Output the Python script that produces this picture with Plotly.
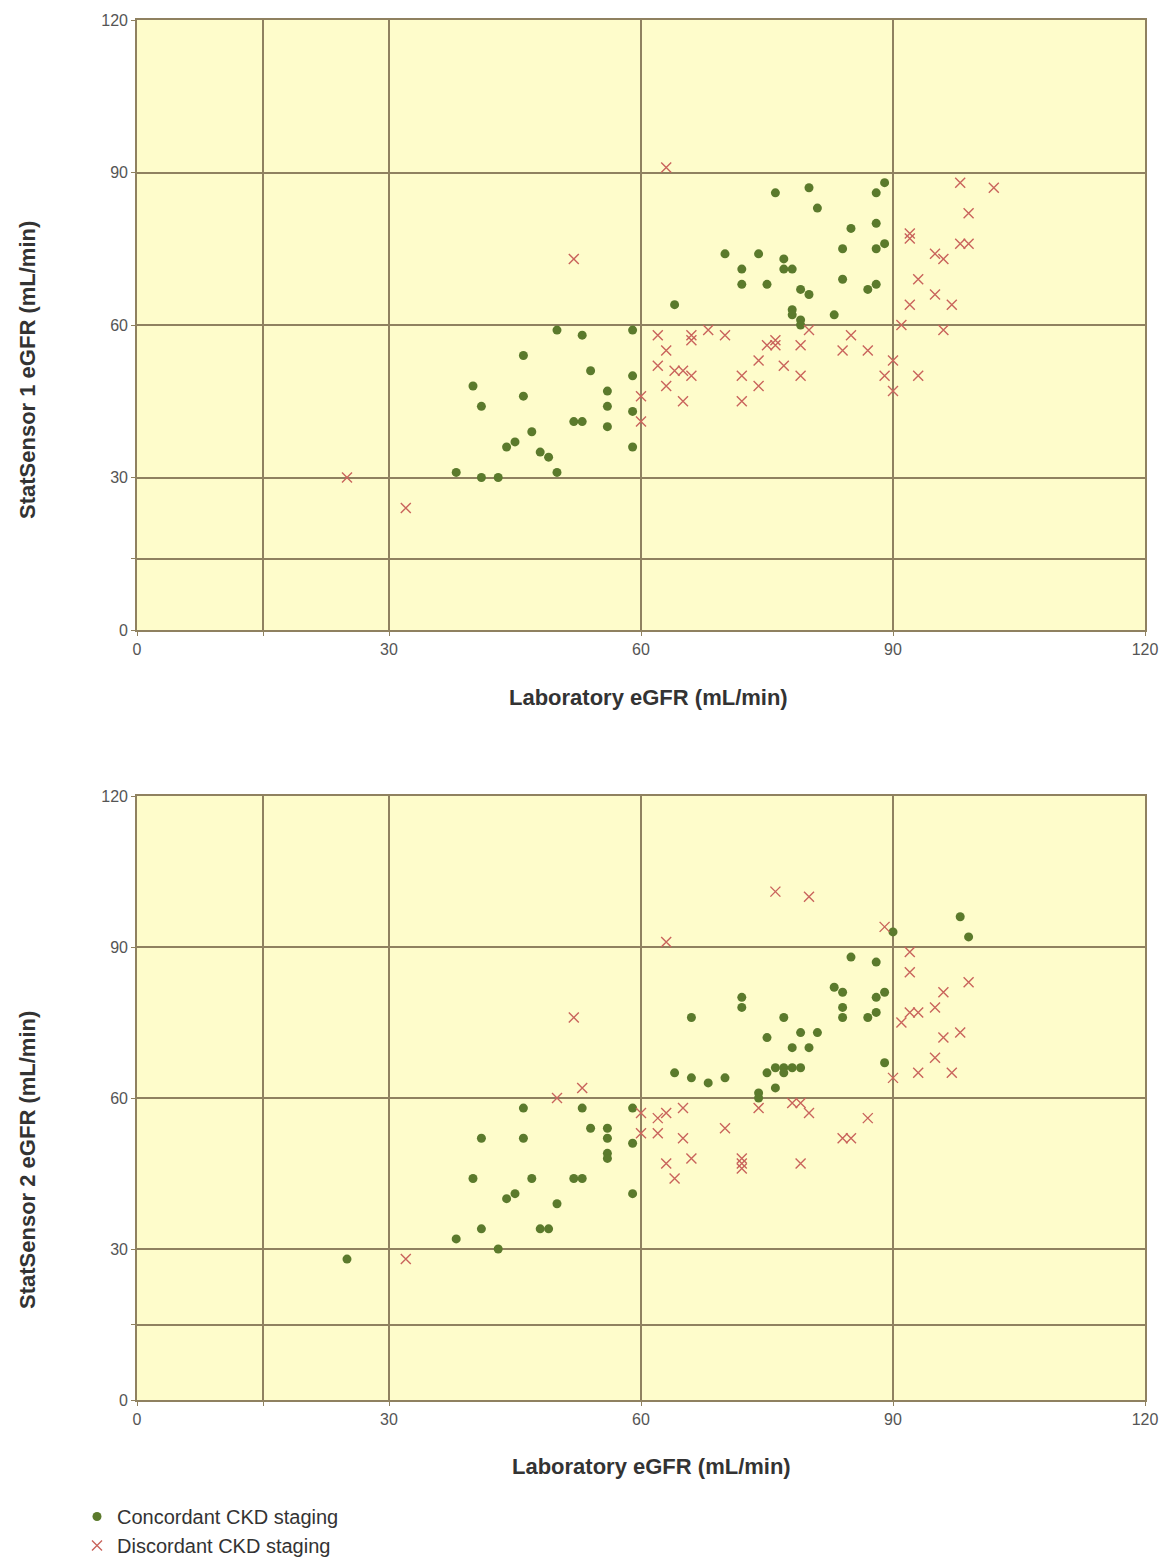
import plotly.graph_objects as go

# ---------------- data ----------------
# Top panel: StatSensor 1
s1_conc_x = [50, 53, 59, 76, 80, 88, 89, 81, 88, 85, 84, 88, 89, 70, 74, 77, 72, 77, 78, 84,
             72, 75, 88, 87, 79, 80, 64, 78, 78, 83, 79, 79, 46, 54, 59, 40, 56, 46, 41, 56,
             59, 52, 53, 56, 47, 45, 44, 59, 48, 49, 38, 50, 41, 43]
s1_conc_y = [59, 58, 59, 86, 87, 86, 88, 83, 80, 79, 75, 75, 76, 74, 74, 73, 71, 71, 71, 69,
             68, 68, 68, 67, 67, 66, 64, 63, 62, 62, 61, 60, 54, 51, 50, 48, 47, 46, 44, 44,
             43, 41, 41, 40, 39, 37, 36, 36, 35, 34, 31, 31, 30, 30]
s1_disc_x = [25, 32, 52, 63, 98, 102, 99, 92, 92, 98, 99, 95, 96, 93, 95, 92, 97, 91, 96, 66,
             68, 70, 76, 80, 85, 62, 66, 75, 76, 79, 84, 87, 74, 77, 90, 64, 65, 66, 72, 79,
             89, 93, 74, 90, 65, 72, 63, 62, 63, 60, 60]
s1_disc_y = [30, 24, 73, 91, 88, 87, 82, 78, 77, 76, 76, 74, 73, 69, 66, 64, 64, 60, 59, 58,
             59, 58, 57, 59, 58, 58, 57, 56, 56, 56, 55, 55, 53, 52, 53, 51, 51, 50, 50, 50,
             50, 50, 48, 47, 45, 45, 55, 52, 48, 46, 41]

# Bottom panel: StatSensor 2
s2_conc_x = [90, 98, 99, 85, 88, 83, 84, 88, 89, 72, 72, 84, 84, 87, 88, 66, 77, 75, 79, 81,
             78, 80, 89, 76, 77, 78, 79, 75, 77, 64, 66, 68, 70, 74, 74, 76, 46, 53, 59, 54,
             56, 56, 56, 56, 41, 46, 59, 40, 47, 52, 53, 45, 44, 59, 50, 41, 48, 49, 38, 43, 25]
s2_conc_y = [93, 96, 92, 88, 87, 82, 81, 80, 81, 80, 78, 78, 76, 76, 77, 76, 76, 72, 73, 73,
             70, 70, 67, 66, 66, 66, 66, 65, 65, 65, 64, 63, 64, 61, 60, 62, 58, 58, 58, 54,
             54, 52, 49, 48, 52, 52, 51, 44, 44, 44, 44, 41, 40, 41, 39, 34, 34, 34, 32, 30, 28]
s2_disc_x = [63, 52, 76, 80, 89, 92, 92, 99, 96, 95, 92, 93, 91, 96, 98, 95, 93, 97, 90, 53,
             50, 60, 62, 63, 60, 62, 63, 32, 65, 74, 78, 79, 80, 87, 70, 65, 84, 85, 66, 72,
             72, 72, 79, 64]
s2_disc_y = [91, 76, 101, 100, 94, 89, 85, 83, 81, 78, 77, 77, 75, 72, 73, 68, 65, 65, 64, 62,
             60, 57, 56, 57, 53, 53, 47, 28, 58, 58, 59, 59, 57, 56, 54, 52, 52, 52, 48, 48,
             47, 46, 47, 44]

x_tickvals = [0, 15, 30, 60, 90, 120]
x_ticktext = ["0", "", "30", "60", "90", "120"]
y1_tickvals = [0, 14, 30, 60, 90, 120]
y2_tickvals = [0, 15, 30, 60, 90, 120]
y_ticktext = ["0", "", "30", "60", "90", "120"]

series_names = ["Concordant CKD staging", "Discordant CKD staging"]
x_title = "Laboratory eGFR (mL/min)"
y1_title = "StatSensor 1 eGFR (mL/min)"
y2_title = "StatSensor 2 eGFR (mL/min)"

# ---------------- styles ----------------
GREEN = "#5b7a2c"
RED = "#c9645c"
GRID = "#8f8160"
BG = "#fefccb"
FONT = "Liberation Sans, Arial, sans-serif"

fig = go.Figure()

conc_marker = dict(symbol="circle", size=9, color=GREEN)
disc_marker = dict(symbol="x-thin-open", size=10, color=RED, line=dict(color=RED, width=1.4))

fig.add_trace(go.Scatter(x=s1_conc_x, y=s1_conc_y, mode="markers", marker=conc_marker,
                         name=series_names[0], legendgroup="c", xaxis="x", yaxis="y",
                         showlegend=True))
fig.add_trace(go.Scatter(x=s1_disc_x, y=s1_disc_y, mode="markers", marker=disc_marker,
                         name=series_names[1], legendgroup="d", xaxis="x", yaxis="y",
                         showlegend=True))
fig.add_trace(go.Scatter(x=s2_conc_x, y=s2_conc_y, mode="markers", marker=conc_marker,
                         name=series_names[0], legendgroup="c", xaxis="x2", yaxis="y2",
                         showlegend=False))
fig.add_trace(go.Scatter(x=s2_disc_x, y=s2_disc_y, mode="markers", marker=disc_marker,
                         name=series_names[1], legendgroup="d", xaxis="x2", yaxis="y2",
                         showlegend=False))

axis_common = dict(
    showgrid=True, gridcolor=GRID, gridwidth=1.6,
    showline=True, linecolor=GRID, linewidth=1.6, mirror=True,
    ticks="outside", ticklen=4, tickcolor=GRID, tickwidth=1,
    tickfont=dict(family=FONT, size=16, color="#555555"),
    zeroline=False, fixedrange=True, automargin=False,
)

H_TOP = 20
H_BOT = 160
plot_h = 1560 - H_TOP - H_BOT
top_lo = (1400 - 630) / plot_h
bot_hi = (1400 - 796) / plot_h

fig.update_layout(
    width=1164, height=1560,
    margin=dict(l=137, r=19, t=H_TOP, b=H_BOT, autoexpand=False),
    paper_bgcolor="white", plot_bgcolor=BG,
    font=dict(family=FONT, color="#333333"),
    xaxis=dict(axis_common, domain=[0, 1], range=[0, 120], tickvals=x_tickvals,
               ticktext=x_ticktext, anchor="y"),
    yaxis=dict(axis_common, domain=[top_lo, 1], range=[0, 120], tickvals=y1_tickvals,
               ticktext=y_ticktext, anchor="x"),
    xaxis2=dict(axis_common, domain=[0, 1], range=[0, 120], tickvals=x_tickvals,
                ticktext=x_ticktext, anchor="y2"),
    yaxis2=dict(axis_common, domain=[0, bot_hi], range=[0, 120], tickvals=y2_tickvals,
                ticktext=y_ticktext, anchor="x2"),
    showlegend=True,
    legend=dict(x=(77 - 137) / 1008, xanchor="left", y=-97 / plot_h, yanchor="top",
                bgcolor="rgba(0,0,0,0)", font=dict(family=FONT, size=20, color="#333333"),
                itemwidth=30, tracegroupgap=0, traceorder="normal"),
)

title_font = dict(family=FONT, size=22, color="#333333")
ann = []
ann.append(dict(text="<b>%s</b>" % x_title, xref="paper", yref="paper", x=0.507,
                y=(1400 - 697) / plot_h, showarrow=False, font=title_font,
                xanchor="center", yanchor="middle"))
ann.append(dict(text="<b>%s</b>" % x_title, xref="paper", yref="paper", x=0.51,
                y=(1400 - 1466) / plot_h, showarrow=False, font=title_font,
                xanchor="center", yanchor="middle"))
ann.append(dict(text="<b>%s</b>" % y1_title, xref="paper", yref="paper",
                x=(27 - 137) / 1008, y=(1400 - 370) / plot_h, showarrow=False,
                font=title_font, textangle=-90, xanchor="center", yanchor="middle"))
ann.append(dict(text="<b>%s</b>" % y2_title, xref="paper", yref="paper",
                x=(27 - 137) / 1008, y=(1400 - 1160) / plot_h, showarrow=False,
                font=title_font, textangle=-90, xanchor="center", yanchor="middle"))
fig.update_layout(annotations=ann)

fig.write_html("out.html")
